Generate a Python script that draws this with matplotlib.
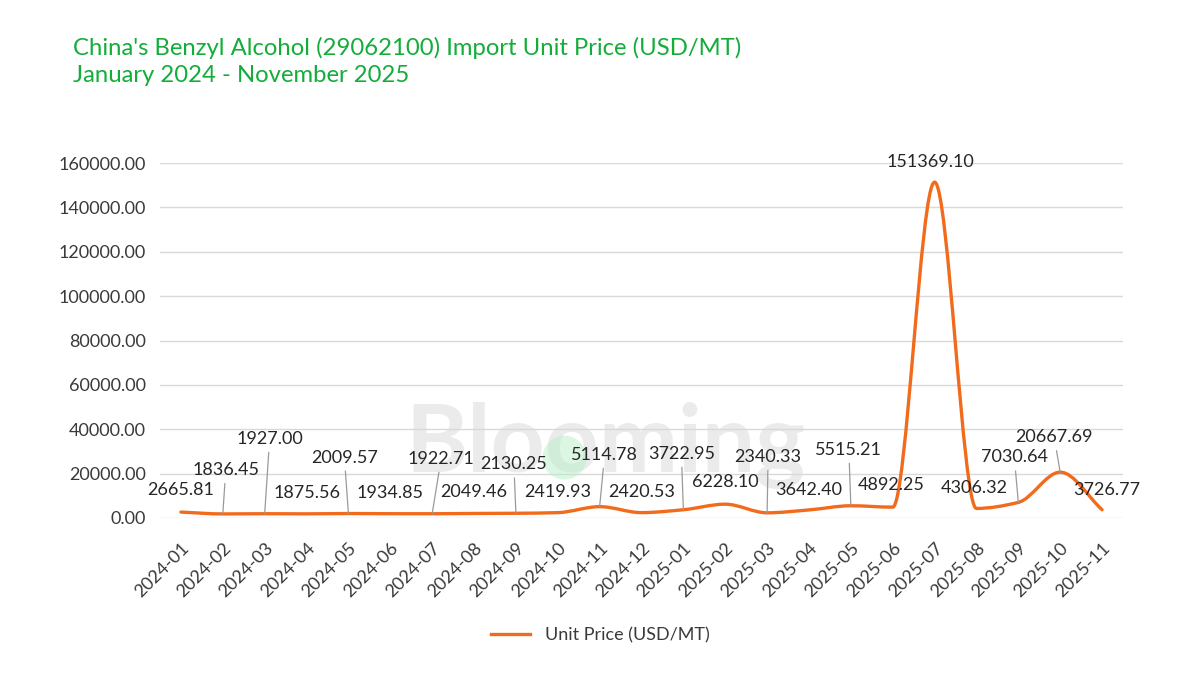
import numpy as np
import matplotlib
matplotlib.use("Agg")
import matplotlib.pyplot as plt
from matplotlib.path import Path
from matplotlib.patches import PathPatch
from matplotlib.lines import Line2D

plt.rcParams['font.family'] = ['Lato', 'DejaVu Sans']

months = ["2024-01", "2024-02", "2024-03", "2024-04", "2024-05", "2024-06",
          "2024-07", "2024-08", "2024-09", "2024-10", "2024-11", "2024-12",
          "2025-01", "2025-02", "2025-03", "2025-04", "2025-05", "2025-06",
          "2025-07", "2025-08", "2025-09", "2025-10", "2025-11"]
prices = [2665.81, 1836.45, 1927.00, 1875.56, 2009.57, 1934.85,
          1922.71, 2049.46, 2130.25, 2419.93, 5114.78, 2420.53,
          3722.95, 6228.10, 2340.33, 3642.40, 5515.21, 4892.25,
          151369.10, 4306.32, 7030.64, 20667.69, 3726.77]
y_ticks = [0, 20000, 40000, 60000, 80000, 100000, 120000, 140000, 160000]

# label placement (pixels offset from point) and whether a leader line is drawn
label_dx = [0, 3, 5, 0, -4, 0, 9, 0, -2, 0, 5, 0, -2, 0, 1, 0, -2, -2, -4, -2, -4, -6, 5]
label_dy = [22, 44, 75, 21, 56, 21, 55, 21, 49, 21, 52, 21, 56, 22, 56, 20, 56, 22, 20, 20, 45, 35, 20]
leader = [False, True, True, False, True, False, True, False, True, False, True, False,
          True, False, True, False, True, False, False, False, True, True, False]

ORANGE = '#F26B1D'
GREEN = '#13AD3A'
TXT = '#3a3a3a'

fig = plt.figure(figsize=(12, 6.76), dpi=100)
ax = fig.add_axes([160/1200, 1-518/676, (1123-160)/1200, (518-163)/676])

x = np.arange(len(prices), dtype=float)
y = np.array(prices, dtype=float)

# smooth line drawn as cubic Bezier segments (monotone tangents, Fritsch-Carlson)
d = np.diff(y)
m = np.zeros_like(y)
m[0] = d[0]
m[-1] = d[-1]
for i in range(1, len(y)-1):
    if d[i-1]*d[i] <= 0:
        m[i] = 0.0
    else:
        m[i] = 2.0/(1.0/d[i-1] + 1.0/d[i])
verts = [(x[0], y[0])]
codes = [Path.MOVETO]
for i in range(len(y)-1):
    verts += [(x[i]+1/3, y[i]+m[i]/3), (x[i+1]-1/3, y[i+1]-m[i+1]/3), (x[i+1], y[i+1])]
    codes += [Path.CURVE4]*3
ax.add_patch(PathPatch(Path(verts, codes), facecolor='none', edgecolor=ORANGE,
                       lw=2.4, zorder=4, capstyle='round', joinstyle='round'))

ax.set_xlim(-0.5, len(prices)-0.5)
ax.set_ylim(0, 160000)
ax.set_yticks(y_ticks)
ax.set_yticklabels([f"{v:.2f}" for v in y_ticks])
ax.set_xticks(x)
ax.set_xticklabels(months, rotation=45, ha='right', va='top', rotation_mode='anchor')
ax.tick_params(axis='both', length=0, labelsize=13, colors=TXT)
ax.tick_params(axis='x', pad=16)
ax.tick_params(axis='y', pad=10)
ax.grid(axis='y', color='#d9d9d9', lw=1.0, zorder=0)
ax.set_axisbelow(True)
for s in ax.spines.values():
    s.set_visible(False)

# watermark
ax.text(0.463, 0.205, "Blooming", transform=ax.transAxes, fontsize=68, fontweight='bold',
        color='#d8d8d8', alpha=0.5, ha='center', va='center', zorder=1)
ax.scatter([0.42], [0.17], s=1000, color='#b8f0c8', alpha=0.5, transform=ax.transAxes,
           zorder=1, edgecolors='none')

for i, (v, dx, dy, ld) in enumerate(zip(prices, label_dx, label_dy, leader)):
    kw = {}
    if ld:
        kw['arrowprops'] = dict(arrowstyle='-', color='#9a9a9a', lw=0.9,
                                shrinkA=2, shrinkB=0)
    ax.annotate(f"{v:.2f}", xy=(x[i], v), xytext=(dx, dy), textcoords='offset pixels',
                ha='center', va='center', fontsize=13, color='#262626', zorder=6, **kw)

fig.text(73/1200, 1-48/676, "China's Benzyl Alcohol (29062100) Import Unit Price (USD/MT)",
         fontsize=17.2, color=GREEN, ha='left', va='center')
fig.text(73/1200, 1-76/676, "January 2024 - November 2025",
         fontsize=17.2, color=GREEN, ha='left', va='center')

handle = Line2D([0], [0], color=ORANGE, lw=2.4)
fig.legend([handle], ["Unit Price (USD/MT)"], loc='center', bbox_to_anchor=(0.5, 1-635/676),
           frameon=False, fontsize=13, handlelength=2.2, labelcolor=TXT)

fig.savefig("out.png", dpi=100)
